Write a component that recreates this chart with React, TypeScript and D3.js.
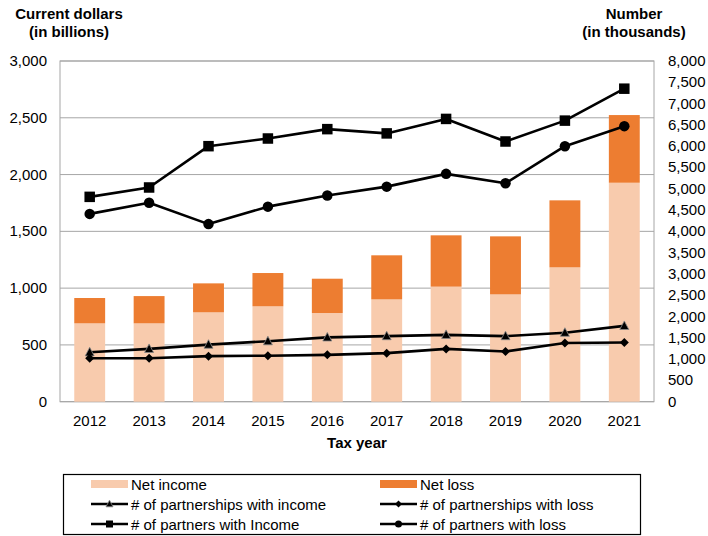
import React from 'react';
import * as d3 from 'd3';

const years = ['2012', '2013', '2014', '2015', '2016', '2017', '2018', '2019', '2020', '2021'];
const netIncome = [690, 690, 787, 840, 781, 901, 1013, 945, 1183, 1928];
const netLoss = [223, 240, 255, 293, 302, 388, 452, 511, 590, 596];
const partnershipsIncome = [1160, 1240, 1340, 1420, 1510, 1540, 1570, 1540, 1620, 1780];
const partnershipsLoss = [1020, 1020, 1070, 1080, 1100, 1140, 1240, 1180, 1380, 1390];
const partnersIncome = [4810, 5030, 6000, 6180, 6400, 6300, 6640, 6110, 6600, 7350];
const partnersLoss = [4410, 4670, 4170, 4580, 4840, 5050, 5350, 5130, 6000, 6470];
const leftTicks = [0, 500, 1000, 1500, 2000, 2500, 3000];
const rightTicks = [0, 500, 1000, 1500, 2000, 2500, 3000, 3500, 4000, 4500, 5000, 5500, 6000, 6500, 7000, 7500, 8000];

const W = 708, H = 536;
const L = 60, R = 654, T = 61, B = 401.7;
const FONT = '"Liberation Sans", Arial, sans-serif';
const C_INC = '#F8CBAD';
const C_LOSS = '#ED7D31';
const GRID = '#A6A6A6';

type Shape = 'triangle' | 'diamond' | 'square' | 'circle';

function Marker({ shape, x, y, s }: { shape: Shape; x: number; y: number; s: number }) {
  if (shape === 'circle') return <circle cx={x} cy={y} r={s / 2} fill="#000" />;
  if (shape === 'square') return <rect x={x - s / 2} y={y - s / 2} width={s} height={s} fill="#000" />;
  if (shape === 'diamond') {
    const h = s / 2;
    return <path d={`M${x},${y - h}L${x + h},${y}L${x},${y + h}L${x - h},${y}Z`} fill="#000" />;
  }
  const h = s / 2;
  return (
    <path
      d={`M${x},${y - h * 1.1}L${x + h},${y + h * 0.8}L${x - h},${y + h * 0.8}Z`}
      fill="#000"
      stroke="#888"
      strokeWidth={0.8}
    />
  );
}

export default function App() {
  const x = d3.scaleBand<string>().domain(years).range([L, R]).paddingInner(0).paddingOuter(0);
  const yL = d3.scaleLinear().domain([0, 3000]).range([B, T]);
  const yR = d3.scaleLinear().domain([0, 8000]).range([B, T]);
  const bw = x.bandwidth() * 0.52;
  const cx = (yr: string) => (x(yr) as number) + x.bandwidth() / 2;

  const line = d3
    .line<number>()
    .x((_, i) => cx(years[i]))
    .y((v) => yR(v));

  const series: { data: number[]; shape: Shape; size: number }[] = [
    { data: partnershipsIncome, shape: 'triangle', size: 9 },
    { data: partnershipsLoss, shape: 'diamond', size: 9 },
    { data: partnersIncome, shape: 'square', size: 10.5 },
    { data: partnersLoss, shape: 'circle', size: 10.5 },
  ];

  const legendRows = [
    [
      { kind: 'bar', color: C_INC, label: 'Net income' },
      { kind: 'bar', color: C_LOSS, label: 'Net loss' },
    ],
    [
      { kind: 'line', shape: 'triangle', label: '# of partnerships with income' },
      { kind: 'line', shape: 'diamond', label: '# of partnerships with loss' },
    ],
    [
      { kind: 'line', shape: 'square', label: '# of partners with Income' },
      { kind: 'line', shape: 'circle', label: '# of partners with loss' },
    ],
  ];
  const legendCols = [91, 380];
  const legendRowY = [484, 504, 524];

  return (
    <svg
      width={W}
      height={H}
      style={{ position: 'absolute', left: 0, top: 0, background: '#fff' }}
      fontFamily={FONT}
    >
      <rect x={0} y={0} width={W} height={H} fill="#fff" />
      {/* gridlines */}
      {leftTicks.map((t) => (
        <line key={t} x1={L} x2={R} y1={yL(t)} y2={yL(t)} stroke={GRID} strokeWidth={1} />
      ))}
      <rect x={L} y={T} width={R - L} height={B - T} fill="none" stroke={GRID} strokeWidth={1} />
      {/* bars */}
      {years.map((yr, i) => (
        <g key={yr}>
          <rect x={cx(yr) - bw / 2} y={yL(netIncome[i])} width={bw} height={B - yL(netIncome[i])} fill={C_INC} />
          <rect
            x={cx(yr) - bw / 2}
            y={yL(netIncome[i] + netLoss[i])}
            width={bw}
            height={yL(netIncome[i]) - yL(netIncome[i] + netLoss[i])}
            fill={C_LOSS}
          />
        </g>
      ))}
      {/* lines */}
      {series.map((s, si) => (
        <g key={si}>
          <path d={line(s.data) as string} fill="none" stroke="#000" strokeWidth={2.6} strokeLinejoin="round" />
          {s.data.map((v, i) => (
            <Marker key={i} shape={s.shape} x={cx(years[i])} y={yR(v)} s={s.size} />
          ))}
        </g>
      ))}
      {/* left axis labels */}
      {leftTicks.map((t) => (
        <text key={t} x={47} y={yL(t) + 5} textAnchor="end" fontSize={15} fill="#000">
          {d3.format(',')(t)}
        </text>
      ))}
      {/* right axis labels */}
      {rightTicks.map((t) => (
        <text key={t} x={668} y={yR(t) + 5} textAnchor="start" fontSize={15} fill="#000">
          {d3.format(',')(t)}
        </text>
      ))}
      {/* x labels */}
      {years.map((yr) => (
        <text key={yr} x={cx(yr)} y={426} textAnchor="middle" fontSize={15} fill="#000">
          {yr}
        </text>
      ))}
      <text x={(L + R) / 2} y={448} textAnchor="middle" fontSize={15} fontWeight="bold" fill="#000">
        Tax year
      </text>
      {/* titles */}
      <text x={69} y={19} textAnchor="middle" fontSize={15} fontWeight="bold" fill="#000">
        Current dollars
      </text>
      <text x={69} y={37} textAnchor="middle" fontSize={15} fontWeight="bold" fill="#000">
        (in billions)
      </text>
      <text x={634} y={19} textAnchor="middle" fontSize={15} fontWeight="bold" fill="#000">
        Number
      </text>
      <text x={634} y={37} textAnchor="middle" fontSize={15} fontWeight="bold" fill="#000">
        (in thousands)
      </text>
      {/* legend */}
      <rect x={63.5} y={474.5} width={577} height={60} fill="#fff" stroke="#000" strokeWidth={1.2} />
      {legendRows.map((row, ri) =>
        row.map((item: any, ci) => {
          const lx = legendCols[ci];
          const ly = legendRowY[ri];
          return (
            <g key={`${ri}-${ci}`}>
              {item.kind === 'bar' ? (
                <rect x={lx} y={ly - 4} width={37} height={8} fill={item.color} />
              ) : (
                <g>
                  <line x1={lx} x2={lx + 37} y1={ly} y2={ly} stroke="#000" strokeWidth={2.6} />
                  <Marker shape={item.shape} x={lx + 18.5} y={ly} s={item.shape === 'circle' ? 7 : 7} />
                </g>
              )}
              <text x={lx + 40} y={ly + 5.5} fontSize={15} fill="#000">
                {item.label}
              </text>
            </g>
          );
        })
      )}
    </svg>
  );
}
